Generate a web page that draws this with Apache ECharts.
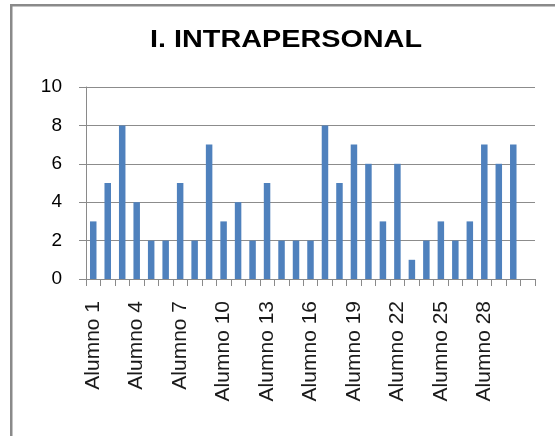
<!DOCTYPE html>
<html>
<head>
<meta charset="utf-8">
<style>
  html, body { margin: 0; padding: 0; background: #ffffff; }
  #chart { width: 555px; height: 436px; }
</style>
<script src="https://cdn.jsdelivr.net/npm/echarts@6/dist/echarts.min.js"></script>
</head>
<body>
<div id="chart"></div>
<script>
var titleText = 'I. INTRAPERSONAL';
var categories = ['Alumno 1','Alumno 2','Alumno 3','Alumno 4','Alumno 5','Alumno 6','Alumno 7','Alumno 8','Alumno 9','Alumno 10',
  'Alumno 11','Alumno 12','Alumno 13','Alumno 14','Alumno 15','Alumno 16','Alumno 17','Alumno 18','Alumno 19','Alumno 20',
  'Alumno 21','Alumno 22','Alumno 23','Alumno 24','Alumno 25','Alumno 26','Alumno 27','Alumno 28','Alumno 29','Alumno 30',''];
var values = [3,5,8,4,2,2,5,2,7,3,4,2,5,2,2,2,8,5,7,6,3,6,1,2,3,2,3,7,6,7,null];
var yMin = 0, yMax = 10, yStep = 2;

var chart = echarts.init(document.getElementById('chart'), null, { renderer: 'canvas' });
chart.setOption({
  animation: false,
  backgroundColor: '#ffffff',
  graphic: [
    {
      type: 'rect', silent: true,
      shape: { x: 11.25, y: 5.25, width: 600, height: 500 },
      style: { fill: 'none', stroke: '#8a8a8a', lineWidth: 2.5 }
    },
    {
      type: 'text', silent: true,
      x: 286, y: 40, scaleX: 1.2, scaleY: 1,
      style: {
        text: titleText, x: 0, y: 0,
        align: 'center', verticalAlign: 'middle',
        font: 'bold 24px "Liberation Sans", Arial, sans-serif',
        fill: '#000000'
      }
    }
  ],
  grid: { left: 86, right: 20, top: 87, bottom: 157, containLabel: false },
  xAxis: {
    type: 'category',
    data: categories,
    boundaryGap: true,
    axisLine: { show: true, lineStyle: { color: '#8a8a8a', width: 1 } },
    axisTick: { show: true, interval: 0, alignWithLabel: false, length: 7, lineStyle: { color: '#8a8a8a' } },
    axisLabel: {
      interval: 2, rotate: 90, margin: 22,
      fontFamily: '"Liberation Sans", Arial, sans-serif', fontSize: 21, color: '#1a1a1a'
    },
    splitLine: { show: false }
  },
  yAxis: {
    type: 'value',
    min: yMin, max: yMax, interval: yStep,
    axisLine: { show: true, lineStyle: { color: '#8a8a8a', width: 1 } },
    axisTick: { show: true, length: 7, lineStyle: { color: '#8a8a8a' } },
    axisLabel: {
      margin: 24,
      fontFamily: '"Liberation Sans", Arial, sans-serif', fontSize: 19, color: '#000000'
    },
    splitLine: { show: true, lineStyle: { color: '#8c8c8c', width: 1 } }
  },
  series: [{
    type: 'bar',
    data: values,
    barWidth: 6.5,
    itemStyle: { color: '#4f81bd' }
  }]
});
</script>
</body>
</html>
